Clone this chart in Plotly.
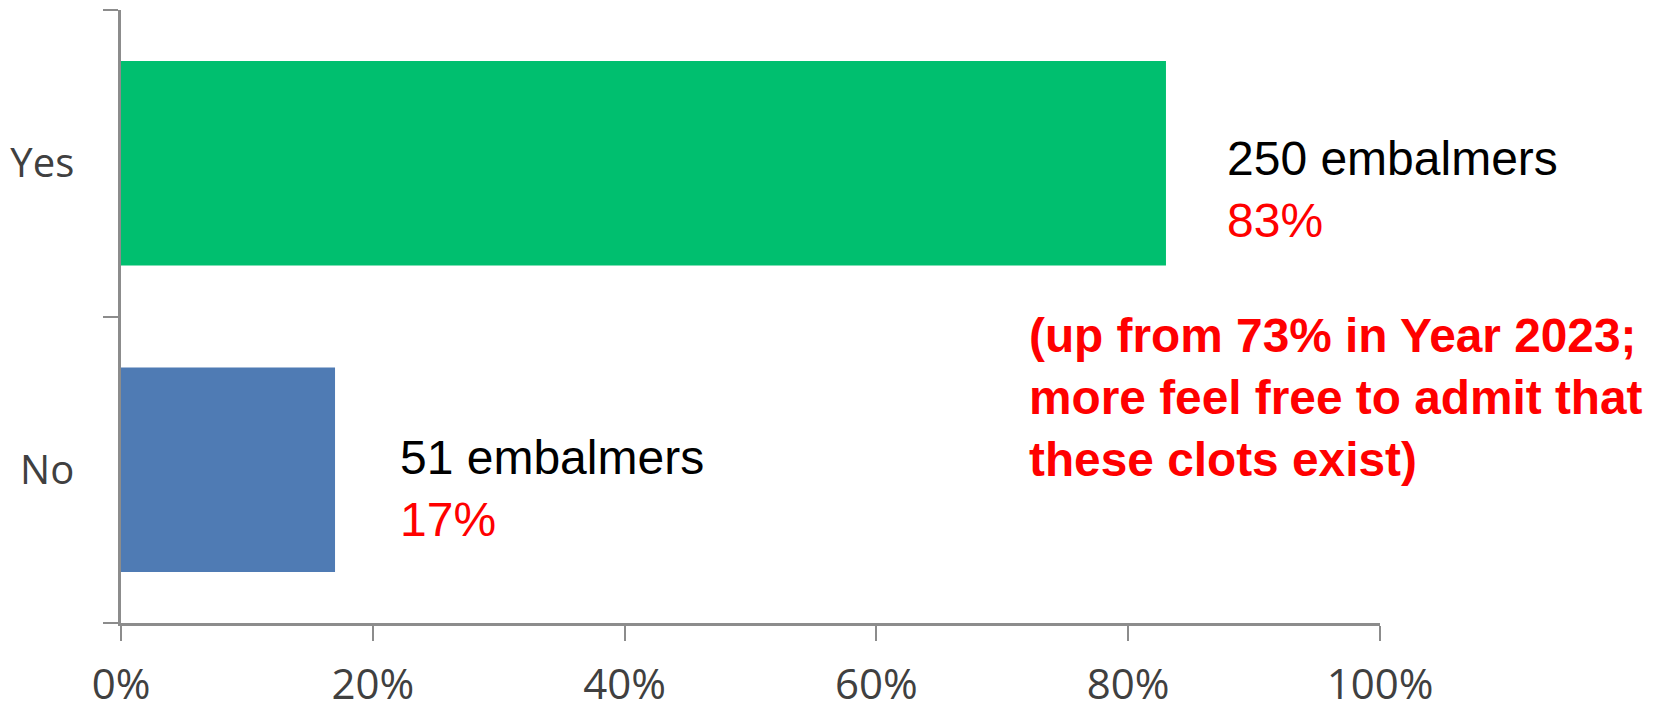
import plotly.graph_objects as go

categories = ["No", "Yes"]
shares = [0.17, 0.83]
counts = [51, 250]
bar_colors = ["#4F7BB4", "#00BF6F"]
x_tick_vals = [0, 0.2, 0.4, 0.6, 0.8, 1.0]
x_tick_text = ["0%", "20%", "40%", "60%", "80%", "100%"]
note_text = "(up from 73% in Year 2023;<br>more feel free to admit that<br>these clots exist)"

fig = go.Figure()
fig.add_trace(go.Bar(
    x=shares, y=categories, orientation="h",
    marker=dict(color=bar_colors, line=dict(width=0)),
    hoverinfo="skip", showlegend=False,
))

# label positions (layout only)
label_x = {"No": 0.22, "Yes": 0.877}
label_y = {"No": -0.06, "Yes": 0.915}
for cat, v, n in zip(categories, shares, counts):
    fig.add_annotation(
        x=label_x[cat], y=label_y[cat], xref="x", yref="y",
        text=f"{n} embalmers<br><span style='color:#FF0000'>{round(v*100)}%</span>",
        showarrow=False, xanchor="left", yanchor="middle", align="left",
        font=dict(family="Liberation Sans, Arial", size=48, color="#000000"),
    )

fig.add_annotation(
    x=0.72, y=0.235, xref="x", yref="y", text=f"<b>{note_text}</b>",
    showarrow=False, xanchor="left", yanchor="middle", align="left",
    font=dict(family="Liberation Sans, Arial", size=47.8, color="#FF0000"),
)

fig.update_layout(
    width=1653, height=705,
    margin=dict(l=113, r=281, t=1.5, b=90),
    paper_bgcolor="white", plot_bgcolor="white",
    bargap=0.332,
    xaxis=dict(
        range=[0, 1], tickvals=x_tick_vals, ticktext=x_tick_text,
        showgrid=False, zeroline=False, automargin=False,
        showline=True, linecolor="#8C8C8C", linewidth=3,
        ticks="outside", ticklen=15, tickcolor="#8C8C8C", tickwidth=2,
        ticklabelstandoff=8,
        tickfont=dict(family="Open Sans, Liberation Sans", size=42, color="#404040"),
    ),
    yaxis=dict(
        categoryorder="array", categoryarray=categories, range=[-0.5, 1.5],
        showgrid=False, zeroline=False, automargin=False,
        showline=True, linecolor="#8C8C8C", linewidth=2.5,
        ticks="outside", ticklen=15, tickcolor="#8C8C8C", tickwidth=2,
        tickson="boundaries", ticklabelstandoff=36,
        tickfont=dict(family="Open Sans, Liberation Sans", size=40, color="#404040"),
    ),
)

fig.write_html("out.html")
